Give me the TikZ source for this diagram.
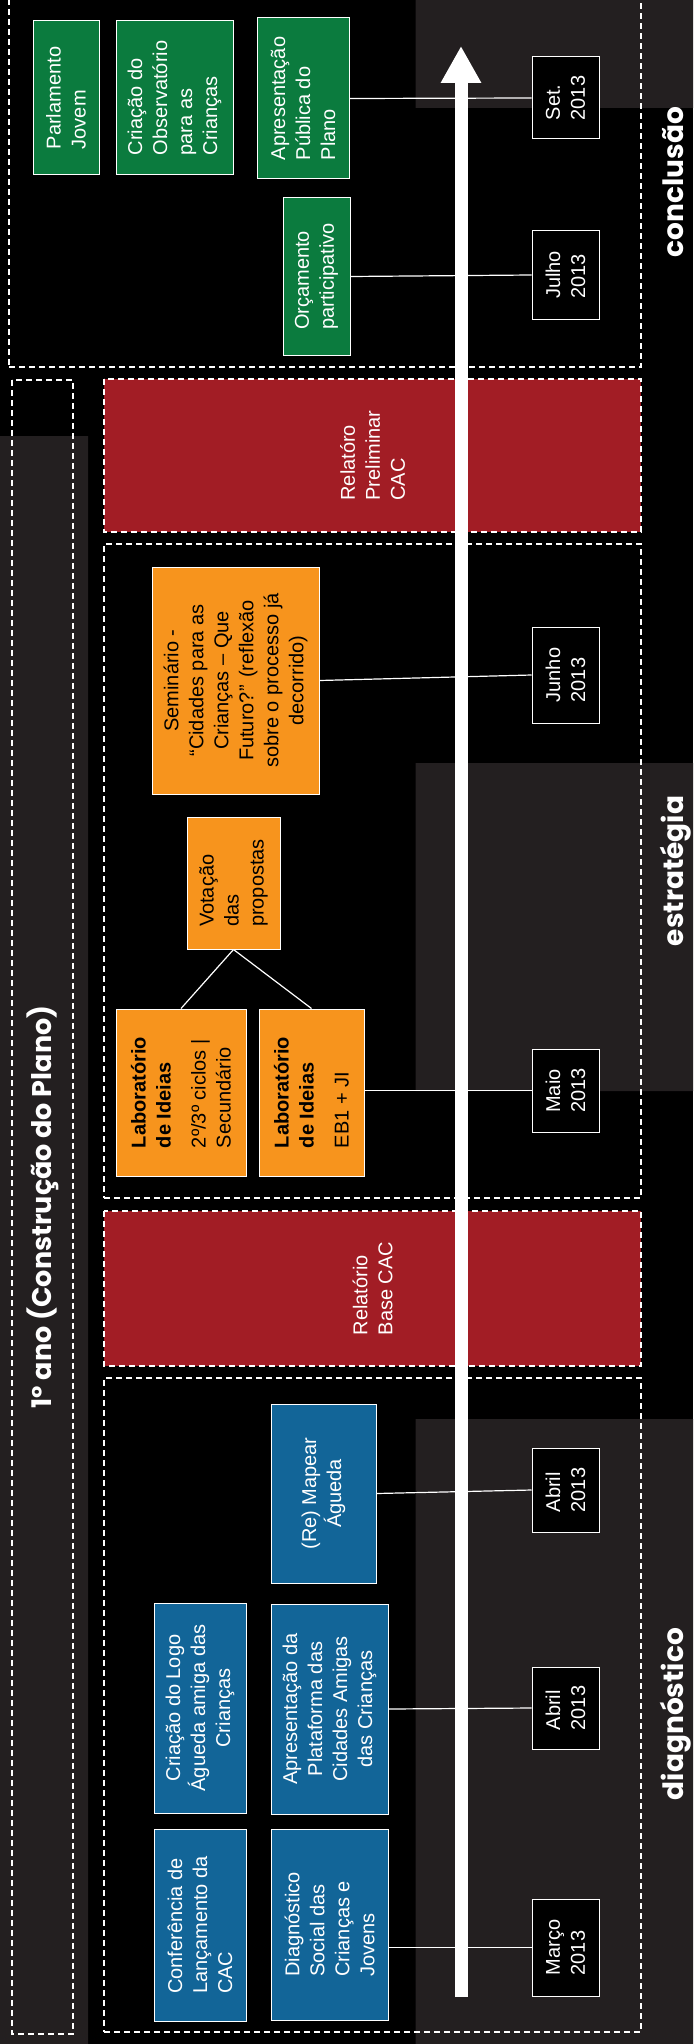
\documentclass[tikz,border=0pt]{standalone}
\usepackage{fontspec}
\setmainfont{Liberation Sans}
\newfontfamily\fasefont{Poppins}
\usetikzlibrary{arrows.meta}

\definecolor{cinzaescuro}{HTML}{231F20}
\definecolor{verdecac}{HTML}{0B7B3E}
\definecolor{azulcac}{HTML}{126598}
\definecolor{laranjacac}{HTML}{F7941D}
\definecolor{vermelhocac}{HTML}{A21D25}

\begin{document}
\begin{tikzpicture}[x=1pt,y=-1pt]
    \tikzstyle{caixa}=[rotate=90,draw=white,line width=1pt,inner sep=0pt,align=left,font=\fontsize{20}{25}\selectfont];
    \tikzstyle{verde}=[caixa,fill=verdecac,text=white];
    \tikzstyle{azul}=[caixa,fill=azulcac,text=white];
    \tikzstyle{laranja}=[caixa,fill=laranjacac,text=black];
    \tikzstyle{data}=[caixa,fill=black,text=white];
    \tikzstyle{relatorio}=[caixa,fill=vermelhocac,text=white,line width=1.2pt,dash pattern=on 6pt off 4pt];
    \tikzstyle{fase}=[draw=white,line width=1.2pt,dash pattern=on 6pt off 4pt,inner sep=0pt];
    \tikzstyle{rotulo}=[rotate=90,anchor=base,text=white,inner sep=0pt,font=\fasefont\bfseries\fontsize{28}{30}\selectfont];
    \tikzstyle{liga}=[draw=white,line width=1.2pt];
    \tikzstyle{eixo}=[draw=white,line width=13pt,-{Triangle[width=38pt,length=37pt]}];

    % fundo
    \useasboundingbox (0,0) rectangle (693,2044);
    \fill[black] (0,0) rectangle (693,2044);
    \fill[cinzaescuro] (415.5,0) rectangle (693,108) (0,436) rectangle
    (88,2044) (415.5,763) rectangle (693,1091) (415.5,1419) rectangle
    (693,2044);

    % fases
    \node (fconc) [fase,minimum width=632,minimum height=372] at (325,181) {};
    \node (festr) [fase,minimum width=537,minimum height=654] at (372.5,871) {};
    \node (fdiag) [fase,minimum width=537,minimum height=654] at (372.5,1705) {};
    \node (ano) [fase,rotate=90,minimum width=1654,minimum height=61,text=white,
    font=\fasefont\bfseries\fontsize{27}{30}\selectfont] at (42.5,1207)
    {1º ano (Construção do Plano)};
    \node (lconc) [rotulo] at (683,182) {conclusão};
    \node (lestr) [rotulo] at (683,871) {estratégia};
    \node (ldiag) [rotulo] at (683,1714) {diagnóstico};

    % conclusão
    \node (parl) [verde,minimum width=154,minimum height=66] at (66,98)
    {Parlamento\\Jovem}; \node (obs) [verde,minimum width=154,minimum
    height=117] at (174.5,98) {Criação do\\Observatório\\para as\\Crianças};
    \node (apres) [verde,minimum width=161,minimum height=92] at
    (303,98.5) {Apresentação\\Pública do\\Plano}; \node (orc)
    [verde,minimum width=157,minimum height=67] at (316.5,276.5)
    {Orçamento\\participativo};
    \node (set) [data,minimum width=82,minimum height=67] at (565.5,98)
    {Set.\\2013}; \node (jul) [data,minimum width=88,minimum height=67]
    at (565.5,275) {Julho\\2013};

    \node (prelim) [relatorio,minimum width=153,minimum height=537] at
    (372.5,455.5) {Relatóro\\Preliminar\\CAC};

    % estratégia
    \node (semin) [laranja,align=center,minimum width=227,minimum
    height=167] at (235.5,680.5) {Seminário -\\“Cidades para as\\Crianças
    – Que\\Futuro?” (reflexão\\sobre o processo já\\decorrido)};
    \node (jun) [data,minimum width=96,minimum height=67] at (565.5,675)
    {Junho\\2013};
    \node (vot) [laranja,minimum width=132,minimum height=93] at
    (233.5,883) {Votação\\das\\propostas};
    \node (lab1) [laranja,minimum width=167,minimum height=130] at
    (181,1092.5) {\textbf{Laboratório}\\\textbf{de Ideias}\\[10pt]2º/3º
    ciclos |\\Secundário}; \node (lab2) [laranja,minimum
    width=167,minimum height=105] at (311.5,1092.5)
    {\textbf{Laboratório}\\\textbf{de Ideias}\\[10pt]EB1 + JI};
    \node (maio) [data,minimum width=83,minimum height=67] at
    (565.5,1090.5) {Maio\\2013};

    \node (base) [relatorio,minimum width=155,minimum height=537] at
    (372.5,1288.5) {Relatório\\Base CAC};

    % diagnóstico
    \node (mapear) [azul,align=center,minimum width=179,minimum
    height=105] at (323.5,1493.5) {(Re) Mapear\\Águeda}; \node (abr1)
    [data,minimum width=84,minimum height=67] at (565.5,1490)
    {Abril\\2013};
    \node (logo) [azul,align=center,minimum width=210,minimum height=92]
    at (200,1708) {Criação do Logo\\Águeda amiga das\\Crianças}; \node
    (plat) [azul,align=center,minimum width=210,minimum height=117] at
    (329.5,1709) {Apresentação da\\Plataforma das\\Cidades Amigas\\das
    Crianças}; \node (abr2) [data,minimum width=82,minimum height=67] at
    (565.5,1708) {Abril\\2013};
    \node (conf) [azul,minimum width=192,minimum height=92] at
    (200,1925) {Conferência de\\Lançamento da\\CAC}; \node (diag)
    [azul,minimum width=191,minimum height=117] at (329.5,1924.5)
    {Diagnóstico\\Social das\\Crianças e\\Jovens}; \node (mar)
    [data,minimum width=97,minimum height=67] at (565.5,1947.5)
    {Março\\2013};

    \path (apres.south) edge[liga] (set.north) (orc.south) edge[liga]
    (jul.north) (semin.south) edge[liga] (jun.north) (vot.west)
    edge[liga] (lab1.east) edge[liga] (lab2.east) (lab2.south |-
    maio.north) edge[liga] (maio.north) (mapear.south) edge[liga]
    (abr1.north) (plat.south) edge[liga] (abr2.north) (diag.south |-
    mar.north) edge[liga] (mar.north);

    % linha do tempo
    \coordinate (t0) at (461,1997); \coordinate (t1) at (461,46);
    \draw[eixo] (t0) -- (t1);
\end{tikzpicture}
\end{document}
